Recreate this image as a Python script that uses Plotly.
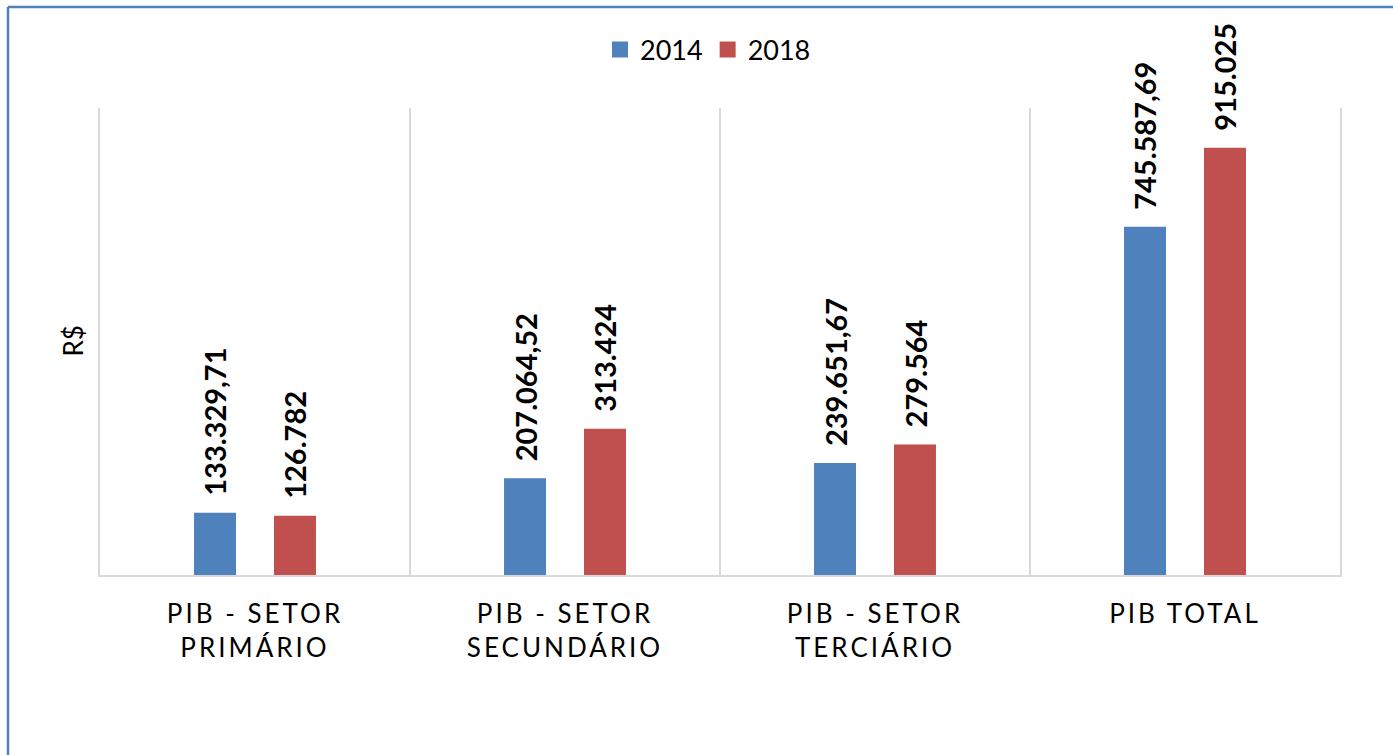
import plotly.graph_objects as go

categories = ["PIB - SETOR PRIMÁRIO", "PIB - SETOR SECUNDÁRIO", "PIB - SETOR TERCIÁRIO", "PIB TOTAL"]
tick_labels = ["PIB - SETOR<br>PRIMÁRIO", "PIB - SETOR<br>SECUNDÁRIO", "PIB - SETOR<br>TERCIÁRIO", "PIB TOTAL"]
series_names = ["2014", "2018"]
values_2014 = [133329.71, 207064.52, 239651.67, 745587.69]
values_2018 = [126782, 313424, 279564, 915025]
labels_2014 = ["133.329,71", "207.064,52", "239.651,67", "745.587,69"]
labels_2018 = ["126.782", "313.424", "279.564", "915.025"]
colors = ["#4F81BD", "#C0504D"]

W, H = 1393, 755
ML, MR, MT, MB = 100, 53, 108, 180
PW, PH = W - ML - MR, H - MT - MB

FONT = "Lato"

fig = go.Figure()
for name, vals, col in zip(series_names, [values_2014, values_2018], colors):
    fig.add_trace(go.Bar(name=name, x=categories, y=vals, showlegend=False,
                         marker=dict(color=col, line=dict(width=0))))
# legend entries with larger square swatches
for name, col in zip(series_names, colors):
    fig.add_trace(go.Scatter(name=name, x=[None], y=[None], mode="markers", showlegend=True,
                             marker=dict(symbol="square", size=16, color=col)))

annotations = []
for vals, labs, shift in [(values_2014, labels_2014, -40), (values_2018, labels_2018, 40)]:
    for c, v, t in zip(categories, vals, labs):
        annotations.append(dict(x=c, y=v, xref="x", yref="y", text=t, showarrow=False,
                                textangle=-90, xanchor="center", yanchor="bottom",
                                xshift=shift, yshift=15,
                                font=dict(family=FONT, size=29, color="black", weight="bold")))

annotations.append(dict(x=0, y=0.5, xref="paper", yref="paper", text="R$", showarrow=False,
                        textangle=-90, xanchor="right", yanchor="middle", xshift=-10,
                        font=dict(family=FONT, size=26, color="black")))

shapes = [
    dict(type="line", xref="paper", yref="paper", x0=(8 - ML) / PW, x1=(W + 5 - ML) / PW,
         y0=1 + (MT - 7) / PH, y1=1 + (MT - 7) / PH, line=dict(color="#4F81BD", width=2.5)),
    dict(type="line", xref="paper", yref="paper", x0=(8 - ML) / PW, x1=(8 - ML) / PW,
         y0=1 + (MT - 7) / PH, y1=-(H + 5 - MT - PH) / PH, line=dict(color="#4F81BD", width=2.5)),
]

fig.update_layout(
    width=W, height=H,
    margin=dict(l=ML, r=MR, t=MT, b=MB, autoexpand=False),
    paper_bgcolor="white", plot_bgcolor="white",
    barmode="group", bargap=0.484, bargroupgap=0.475,
    font=dict(family=FONT, color="black"),
    legend=dict(orientation="h", x=0.5 - 12 / PW, xanchor="center", y=1 + (MT - 50) / PH, yanchor="middle",
                font=dict(family=FONT, size=27, color="black"), itemwidth=30,
                bgcolor="rgba(0,0,0,0)"),
    annotations=annotations,
    shapes=shapes,
    xaxis=dict(tickvals=categories, ticktext=tick_labels, tickson="boundaries",
               showgrid=True, gridcolor="#D9D9D9", gridwidth=1.5,
               showline=True, linecolor="#D9D9D9", linewidth=1.5,
               ticks="", ticklabelstandoff=15,
               tickfont=dict(family=FONT, size=26, color="black")),
    yaxis=dict(range=[0, 1000000], showgrid=False, showticklabels=False, zeroline=False,
               showline=True, linecolor="#D9D9D9", linewidth=1.5, mirror=True, ticks=""),
)

post = """
document.body.style.margin='0';
var s=document.createElement('style');
s.innerHTML='.xtick text{letter-spacing:3px;}';
document.head.appendChild(s);
"""
fig.write_html("out.html", post_script=post, config={"displayModeBar": False})
